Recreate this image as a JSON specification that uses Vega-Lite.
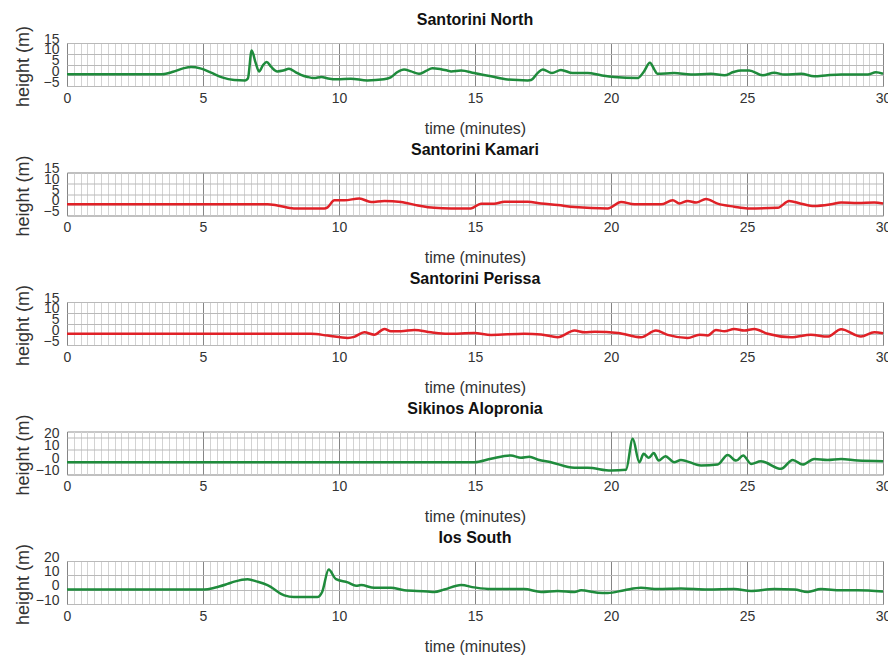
{
  "$schema": "https://vega.github.io/schema/vega-lite/v6.json",
  "padding": {"top": 11, "left": 13, "right": 0, "bottom": 4},
  "background": "white",
  "bounds": "flush",
  "spacing": 86.5,
  "datasets": {
    "north": [
      {"t":0,"h":0.5},{"t":3.5,"h":0.5},{"t":3.9,"h":1.6},{"t":4.3,"h":3.3},{"t":4.56,"h":3.8},{"t":4.9,"h":3.2},{"t":5.3,"h":1.2},{"t":5.7,"h":-1.0},{"t":6.15,"h":-2.2},{"t":6.55,"h":-2.4},{"t":6.65,"h":-1.5},{"t":6.79,"h":11.5},{"t":6.93,"h":6},{"t":7.06,"h":1.8},{"t":7.2,"h":4.5},{"t":7.34,"h":6.2},{"t":7.5,"h":4},{"t":7.73,"h":1.8},{"t":7.95,"h":2.2},{"t":8.16,"h":3.0},{"t":8.4,"h":1.5},{"t":8.6,"h":0.2},{"t":8.85,"h":-0.8},{"t":9.08,"h":-1.3},{"t":9.35,"h":-0.8},{"t":9.6,"h":-1.5},{"t":9.94,"h":-1.9},{"t":10.43,"h":-1.6},{"t":11.04,"h":-2.4},{"t":11.65,"h":-1.9},{"t":11.9,"h":-1.0},{"t":12.15,"h":1.5},{"t":12.39,"h":2.7},{"t":12.65,"h":1.8},{"t":12.94,"h":0.7},{"t":13.2,"h":2.0},{"t":13.43,"h":3.3},{"t":13.75,"h":2.8},{"t":13.98,"h":2.2},{"t":14.12,"h":1.8},{"t":14.49,"h":2.2},{"t":14.97,"h":1.0},{"t":15.59,"h":-0.5},{"t":16.2,"h":-2.0},{"t":16.94,"h":-2.4},{"t":17.06,"h":-2.2},{"t":17.3,"h":1.0},{"t":17.49,"h":2.7},{"t":17.83,"h":1.0},{"t":18.16,"h":2.5},{"t":18.59,"h":1.0},{"t":19.14,"h":1.0},{"t":19.63,"h":0},{"t":20.12,"h":-0.8},{"t":20.98,"h":-1.3},{"t":21.2,"h":1.5},{"t":21.43,"h":5.8},{"t":21.6,"h":2.5},{"t":21.7,"h":0.7},{"t":22.32,"h":1.0},{"t":22.94,"h":0.3},{"t":23.68,"h":0.7},{"t":24.17,"h":0},{"t":24.5,"h":1.5},{"t":24.78,"h":2.2},{"t":25.08,"h":2.2},{"t":25.58,"h":0},{"t":26.0,"h":1.2},{"t":26.37,"h":0.3},{"t":26.99,"h":0.7},{"t":27.47,"h":-0.5},{"t":27.96,"h":0},{"t":28.46,"h":0.3},{"t":29.44,"h":0.3},{"t":29.74,"h":1.4},{"t":30,"h":0.7}
    ],
    "kamari": [
      {"t":0,"h":0.2},{"t":7.37,"h":0.2},{"t":7.73,"h":-0.3},{"t":8.34,"h":-1.7},{"t":9.46,"h":-1.7},{"t":9.58,"h":-1.2},{"t":9.83,"h":2.1},{"t":10.2,"h":2.1},{"t":10.75,"h":2.9},{"t":11.18,"h":1.3},{"t":11.67,"h":1.8},{"t":12.28,"h":1.3},{"t":12.9,"h":-0.3},{"t":13.5,"h":-1.4},{"t":14.12,"h":-1.7},{"t":14.85,"h":-1.7},{"t":15.22,"h":0.5},{"t":15.7,"h":0.5},{"t":16.08,"h":1.4},{"t":16.94,"h":1.4},{"t":17.43,"h":0.6},{"t":18.04,"h":-0.1},{"t":18.66,"h":-1.1},{"t":19.88,"h":-1.7},{"t":20.37,"h":1.3},{"t":20.86,"h":0.2},{"t":21.84,"h":0.2},{"t":22.27,"h":2.1},{"t":22.51,"h":0.6},{"t":22.82,"h":1.8},{"t":23.13,"h":1.0},{"t":23.49,"h":2.7},{"t":23.92,"h":0.5},{"t":24.53,"h":-0.9},{"t":25.02,"h":-1.7},{"t":26.13,"h":-1.4},{"t":26.55,"h":1.8},{"t":26.99,"h":0.5},{"t":27.47,"h":-0.6},{"t":28.09,"h":0.2},{"t":28.46,"h":1.0},{"t":29.07,"h":0.8},{"t":29.68,"h":1.0},{"t":30,"h":0.6}
    ],
    "perissa": [
      {"t":0,"h":0.2},{"t":8.97,"h":0.2},{"t":9.58,"h":-0.6},{"t":10.32,"h":-1.7},{"t":10.56,"h":-1.2},{"t":10.93,"h":0.9},{"t":11.3,"h":-0.2},{"t":11.67,"h":2.5},{"t":11.91,"h":1.4},{"t":12.28,"h":1.4},{"t":12.77,"h":2.0},{"t":13.38,"h":0.9},{"t":13.99,"h":0.2},{"t":14.97,"h":0.6},{"t":15.59,"h":-0.3},{"t":16.81,"h":0.2},{"t":17.43,"h":-0.1},{"t":18.04,"h":-1.4},{"t":18.66,"h":1.7},{"t":19.03,"h":0.9},{"t":19.4,"h":1.2},{"t":20.26,"h":0.6},{"t":21.1,"h":-1.4},{"t":21.65,"h":1.7},{"t":22.08,"h":-0.3},{"t":22.82,"h":-1.7},{"t":23.25,"h":-0.2},{"t":23.56,"h":-0.6},{"t":23.86,"h":2.0},{"t":24.17,"h":1.4},{"t":24.53,"h":2.5},{"t":24.9,"h":1.7},{"t":25.27,"h":2.5},{"t":25.76,"h":0.2},{"t":26.62,"h":-1.4},{"t":27.35,"h":-0.2},{"t":27.96,"h":-1.1},{"t":28.46,"h":2.3},{"t":29.19,"h":-1.1},{"t":29.68,"h":0.9},{"t":30,"h":0.5}
    ],
    "sikinos": [
      {"t":0,"h":0},{"t":14.97,"h":0},{"t":15.59,"h":2.8},{"t":16.32,"h":5.5},{"t":16.69,"h":3.6},{"t":17.0,"h":4.4},{"t":17.32,"h":2.0},{"t":17.79,"h":0},{"t":18.65,"h":-4.5},{"t":19.14,"h":-4.5},{"t":20.0,"h":-6.8},{"t":20.55,"h":-6.2},{"t":20.8,"h":19.0},{"t":21.04,"h":0},{"t":21.2,"h":6.8},{"t":21.39,"h":3.6},{"t":21.57,"h":7.4},{"t":21.75,"h":1.3},{"t":22.0,"h":4.9},{"t":22.32,"h":0},{"t":22.57,"h":1.9},{"t":23.31,"h":-2.7},{"t":23.92,"h":-1.9},{"t":24.29,"h":5.9},{"t":24.6,"h":1.3},{"t":24.86,"h":5.5},{"t":25.15,"h":-1.4},{"t":25.51,"h":0.8},{"t":26.25,"h":-5.4},{"t":26.68,"h":1.9},{"t":27.05,"h":-1.9},{"t":27.47,"h":2.7},{"t":27.96,"h":1.9},{"t":28.46,"h":2.7},{"t":29.07,"h":1.3},{"t":30,"h":0.8}
    ],
    "ios": [
      {"t":0,"h":0.1},{"t":5.05,"h":0.1},{"t":5.42,"h":1.3},{"t":5.9,"h":4.0},{"t":6.15,"h":5.6},{"t":6.64,"h":7.3},{"t":7.0,"h":5.6},{"t":7.37,"h":3.2},{"t":7.99,"h":-4.0},{"t":8.34,"h":-5.2},{"t":9.2,"h":-5.2},{"t":9.38,"h":-1.6},{"t":9.62,"h":14.0},{"t":9.89,"h":7.3},{"t":10.32,"h":5.1},{"t":10.63,"h":2.7},{"t":10.81,"h":3.2},{"t":11.3,"h":1.3},{"t":11.91,"h":1.3},{"t":12.4,"h":-0.4},{"t":13.26,"h":-1.2},{"t":13.5,"h":-1.6},{"t":13.87,"h":0.1},{"t":14.49,"h":3.2},{"t":14.97,"h":1.6},{"t":15.59,"h":0.4},{"t":16.81,"h":0.4},{"t":17.43,"h":-1.6},{"t":18.04,"h":-0.9},{"t":18.66,"h":-1.6},{"t":18.9,"h":-0.4},{"t":19.51,"h":-2.1},{"t":19.88,"h":-2.3},{"t":20.49,"h":-0.4},{"t":21.1,"h":1.3},{"t":21.72,"h":0.4},{"t":22.57,"h":0.8},{"t":23.56,"h":0.1},{"t":24.53,"h":0.4},{"t":25.15,"h":-0.9},{"t":26.0,"h":0.4},{"t":26.74,"h":0.1},{"t":27.23,"h":-1.6},{"t":27.72,"h":0.4},{"t":28.46,"h":-0.4},{"t":29.07,"h":-0.4},{"t":30,"h":-1.2}
    ]
  },
  "vconcat": [
    {
      "title": "Santorini North",
      "width": 816, "height": 43,
      "data": {"name": "north"},
      "mark": {"type": "line", "color": "#1f8b3c", "strokeWidth": 2.5, "interpolate": "monotone"},
      "encoding": {
        "x": {"field": "t", "type": "quantitative", "scale": {"domain": [0, 30], "nice": false}, "title": "time (minutes)",
          "axis": {"values": [0,0.25,0.5,0.75,1,1.25,1.5,1.75,2,2.25,2.5,2.75,3,3.25,3.5,3.75,4,4.25,4.5,4.75,5,5.25,5.5,5.75,6,6.25,6.5,6.75,7,7.25,7.5,7.75,8,8.25,8.5,8.75,9,9.25,9.5,9.75,10,10.25,10.5,10.75,11,11.25,11.5,11.75,12,12.25,12.5,12.75,13,13.25,13.5,13.75,14,14.25,14.5,14.75,15,15.25,15.5,15.75,16,16.25,16.5,16.75,17,17.25,17.5,17.75,18,18.25,18.5,18.75,19,19.25,19.5,19.75,20,20.25,20.5,20.75,21,21.25,21.5,21.75,22,22.25,22.5,22.75,23,23.25,23.5,23.75,24,24.25,24.5,24.75,25,25.25,25.5,25.75,26,26.25,26.5,26.75,27,27.25,27.5,27.75,28,28.25,28.5,28.75,29,29.25,29.5,29.75,30]}},
        "y": {"field": "h", "type": "quantitative", "scale": {"domain": [-5, 15], "nice": false}, "title": "height (m)",
          "axis": {"values": [-5, 0, 5, 10, 15]}}
      }
    },
    {
      "title": "Santorini Kamari",
      "width": 816, "height": 43,
      "data": {"name": "kamari"},
      "mark": {"type": "line", "color": "#e02127", "strokeWidth": 2.5, "interpolate": "monotone"},
      "encoding": {
        "x": {"field": "t", "type": "quantitative", "scale": {"domain": [0, 30], "nice": false}, "title": "time (minutes)",
          "axis": {"values": [0,0.25,0.5,0.75,1,1.25,1.5,1.75,2,2.25,2.5,2.75,3,3.25,3.5,3.75,4,4.25,4.5,4.75,5,5.25,5.5,5.75,6,6.25,6.5,6.75,7,7.25,7.5,7.75,8,8.25,8.5,8.75,9,9.25,9.5,9.75,10,10.25,10.5,10.75,11,11.25,11.5,11.75,12,12.25,12.5,12.75,13,13.25,13.5,13.75,14,14.25,14.5,14.75,15,15.25,15.5,15.75,16,16.25,16.5,16.75,17,17.25,17.5,17.75,18,18.25,18.5,18.75,19,19.25,19.5,19.75,20,20.25,20.5,20.75,21,21.25,21.5,21.75,22,22.25,22.5,22.75,23,23.25,23.5,23.75,24,24.25,24.5,24.75,25,25.25,25.5,25.75,26,26.25,26.5,26.75,27,27.25,27.5,27.75,28,28.25,28.5,28.75,29,29.25,29.5,29.75,30]}},
        "y": {"field": "h", "type": "quantitative", "scale": {"domain": [-5, 15], "nice": false}, "title": "height (m)",
          "axis": {"values": [-5, 0, 5, 10, 15]}}
      }
    },
    {
      "title": "Santorini Perissa",
      "width": 816, "height": 43,
      "data": {"name": "perissa"},
      "mark": {"type": "line", "color": "#e02127", "strokeWidth": 2.5, "interpolate": "monotone"},
      "encoding": {
        "x": {"field": "t", "type": "quantitative", "scale": {"domain": [0, 30], "nice": false}, "title": "time (minutes)",
          "axis": {"values": [0,0.25,0.5,0.75,1,1.25,1.5,1.75,2,2.25,2.5,2.75,3,3.25,3.5,3.75,4,4.25,4.5,4.75,5,5.25,5.5,5.75,6,6.25,6.5,6.75,7,7.25,7.5,7.75,8,8.25,8.5,8.75,9,9.25,9.5,9.75,10,10.25,10.5,10.75,11,11.25,11.5,11.75,12,12.25,12.5,12.75,13,13.25,13.5,13.75,14,14.25,14.5,14.75,15,15.25,15.5,15.75,16,16.25,16.5,16.75,17,17.25,17.5,17.75,18,18.25,18.5,18.75,19,19.25,19.5,19.75,20,20.25,20.5,20.75,21,21.25,21.5,21.75,22,22.25,22.5,22.75,23,23.25,23.5,23.75,24,24.25,24.5,24.75,25,25.25,25.5,25.75,26,26.25,26.5,26.75,27,27.25,27.5,27.75,28,28.25,28.5,28.75,29,29.25,29.5,29.75,30]}},
        "y": {"field": "h", "type": "quantitative", "scale": {"domain": [-5, 15], "nice": false}, "title": "height (m)",
          "axis": {"values": [-5, 0, 5, 10, 15]}}
      }
    },
    {
      "title": "Sikinos Alopronia",
      "width": 816, "height": 43,
      "data": {"name": "sikinos"},
      "mark": {"type": "line", "color": "#1f8b3c", "strokeWidth": 2.5, "interpolate": "monotone"},
      "encoding": {
        "x": {"field": "t", "type": "quantitative", "scale": {"domain": [0, 30], "nice": false}, "title": "time (minutes)",
          "axis": {"values": [0,0.25,0.5,0.75,1,1.25,1.5,1.75,2,2.25,2.5,2.75,3,3.25,3.5,3.75,4,4.25,4.5,4.75,5,5.25,5.5,5.75,6,6.25,6.5,6.75,7,7.25,7.5,7.75,8,8.25,8.5,8.75,9,9.25,9.5,9.75,10,10.25,10.5,10.75,11,11.25,11.5,11.75,12,12.25,12.5,12.75,13,13.25,13.5,13.75,14,14.25,14.5,14.75,15,15.25,15.5,15.75,16,16.25,16.5,16.75,17,17.25,17.5,17.75,18,18.25,18.5,18.75,19,19.25,19.5,19.75,20,20.25,20.5,20.75,21,21.25,21.5,21.75,22,22.25,22.5,22.75,23,23.25,23.5,23.75,24,24.25,24.5,24.75,25,25.25,25.5,25.75,26,26.25,26.5,26.75,27,27.25,27.5,27.75,28,28.25,28.5,28.75,29,29.25,29.5,29.75,30]}},
        "y": {"field": "h", "type": "quantitative", "scale": {"domain": [-10, 25], "nice": false}, "title": "height (m)",
          "axis": {"values": [-10, 0, 10, 20]}}
      }
    },
    {
      "title": "Ios South",
      "width": 816, "height": 43,
      "data": {"name": "ios"},
      "mark": {"type": "line", "color": "#1f8b3c", "strokeWidth": 2.5, "interpolate": "monotone"},
      "encoding": {
        "x": {"field": "t", "type": "quantitative", "scale": {"domain": [0, 30], "nice": false}, "title": "time (minutes)",
          "axis": {"values": [0,0.25,0.5,0.75,1,1.25,1.5,1.75,2,2.25,2.5,2.75,3,3.25,3.5,3.75,4,4.25,4.5,4.75,5,5.25,5.5,5.75,6,6.25,6.5,6.75,7,7.25,7.5,7.75,8,8.25,8.5,8.75,9,9.25,9.5,9.75,10,10.25,10.5,10.75,11,11.25,11.5,11.75,12,12.25,12.5,12.75,13,13.25,13.5,13.75,14,14.25,14.5,14.75,15,15.25,15.5,15.75,16,16.25,16.5,16.75,17,17.25,17.5,17.75,18,18.25,18.5,18.75,19,19.25,19.5,19.75,20,20.25,20.5,20.75,21,21.25,21.5,21.75,22,22.25,22.5,22.75,23,23.25,23.5,23.75,24,24.25,24.5,24.75,25,25.25,25.5,25.75,26,26.25,26.5,26.75,27,27.25,27.5,27.75,28,28.25,28.5,28.75,29,29.25,29.5,29.75,30]}},
        "y": {"field": "h", "type": "quantitative", "scale": {"domain": [-10, 20], "nice": false}, "title": "height (m)",
          "axis": {"values": [-10, 0, 10, 20]}}
      }
    }
  ],
  "config": {
    "font": "Liberation Sans",
    "view": {"stroke": "#8f8f8f", "strokeWidth": 1},
    "title": {"fontSize": 16, "fontWeight": "bold", "color": "#111111", "anchor": "middle", "offset": -3, "baseline": "alphabetic", "font": "Liberation Sans"},
    "axis": {
      "labelFont": "Liberation Sans", "labelFontSize": 14, "labelColor": "#333333",
      "titleFont": "Liberation Sans", "titleFontSize": 16, "titleFontWeight": "normal", "titleColor": "#333333",
      "domain": false, "ticks": false, "labelOverlap": false, "labelBound": false, "labelFlush": false,
      "gridOpacity": 1, "gridWidth": 1
    },
    "axisX": {
      "labelPadding": 5, "titlePadding": 15,
      "labelExpr": "datum.value % 5 === 0 ? format(datum.value, 'd') : ''",
      "gridColor": {"condition": {"test": "datum.value % 5 === 0", "value": "#858585"}, "value": "#d3d3d3"}
    },
    "axisY": {
      "labelPadding": 8, "labelBaseline": "alphabetic",
      "gridColor": "#b9b9b9",
      "titleFontSize": 18, "titleX": -44, "titleY": 23, "titleBaseline": "middle", "titleAngle": -90
    }
  }
}
